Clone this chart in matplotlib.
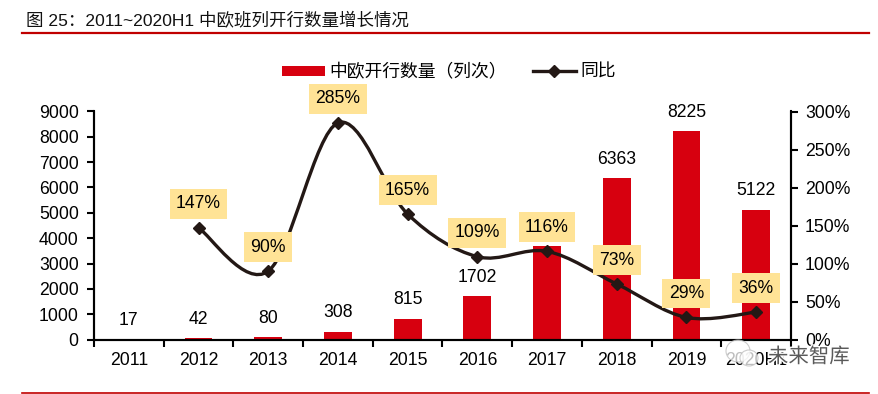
import matplotlib
matplotlib.use("Agg")
import matplotlib.pyplot as plt
import matplotlib.patheffects as pe
from matplotlib.path import Path
from matplotlib.patches import PathPatch, Rectangle, Ellipse
from matplotlib.lines import Line2D
from matplotlib.transforms import IdentityTransform

plt.rcParams['font.family'] = ['Liberation Sans', 'Noto Sans CJK SC', 'DejaVu Sans']

years = ['2011', '2012', '2013', '2014', '2015', '2016', '2017', '2018', '2019', '2020H1']
trains = [17, 42, 80, 308, 815, 1702, 3673, 6363, 8225, 5122]
growth = [None, 147, 90, 285, 165, 109, 116, 73, 29, 36]
growth_labels = ['147%', '90%', '285%', '165%', '109%', '116%', '73%', '29%', '36%']
left_ticks = [0, 1000, 2000, 3000, 4000, 5000, 6000, 7000, 8000, 9000]
right_ticks = [0, 50, 100, 150, 200, 250, 300]

RED = '#d7000f'
DARK = '#231815'
W, H = 879, 394
FS = 12.7


def smooth_path(xs, ys):
    # excel style smoothed line, bezier through every point
    verts = [(xs[0], ys[0])]
    codes = [Path.MOVETO]
    n = len(xs)
    for i in range(n - 1):
        x0, y0 = (xs[i - 1], ys[i - 1]) if i > 0 else (xs[i], ys[i])
        x1, y1 = xs[i], ys[i]
        x2, y2 = xs[i + 1], ys[i + 1]
        x3, y3 = (xs[i + 2], ys[i + 2]) if i + 2 < n else (x2, y2)
        verts += [(x1 + (x2 - x0) / 6, y1 + (y2 - y0) / 6),
                  (x2 - (x3 - x1) / 6, y2 - (y3 - y1) / 6),
                  (x2, y2)]
        codes += [Path.CURVE4] * 3
    return Path(verts, codes)


fig = plt.figure(figsize=(W / 100, H / 100), dpi=100)
ax = fig.add_axes([94 / W, 1 - 339.5 / H, 697 / W, 228 / H])
ax2 = ax.twinx()

x = list(range(len(years)))
ax.bar(x, trains, width=0.4, color=RED, zorder=2)
ax.set_xlim(-0.5, 9.5)
ax.set_ylim(0, 9000)
ax.set_yticks(left_ticks)
ax.set_xticks([i + 0.5 for i in x[:-1]] + [-0.5, 9.5])
ax.set_xticklabels([])
ax.tick_params(axis='x', direction='out', length=5, width=1.5, color='black')
ax.tick_params(axis='y', direction='out', length=5, width=1.5, labelsize=FS, pad=6)
for i, y in enumerate(years):
    ax.annotate(y, (i, 0), xytext=(0, -21), textcoords='offset pixels',
                ha='center', va='center', fontsize=FS, color='black')
for i, v in enumerate(trains):
    # the 2017 value sits behind the yellow box in the original, so it does not show
    if years[i] == '2017':
        continue
    ax.annotate(str(v), (i, v), xytext=(0, 19), textcoords='offset pixels',
                ha='center', va='center', fontsize=FS, color='black', zorder=6)

ax2.set_ylim(0, 300)
ax2.set_yticks(right_ticks)
ax2.set_yticklabels([f'{t}%' for t in right_ticks])
ax2.tick_params(axis='y', direction='out', length=5, width=1.5, labelsize=FS, pad=5)

for a in (ax, ax2):
    a.spines['top'].set_visible(False)
    for s in ('left', 'right', 'bottom'):
        a.spines[s].set_linewidth(1.5)

gx = x[1:]
gy = growth[1:]
ax2.add_patch(PathPatch(smooth_path(gx, gy), fc='none', ec=DARK, lw=2.4, zorder=3))
ax2.plot(gx, gy, ls='none', marker='D', ms=6.5, color=DARK, zorder=4)

# yellow value boxes
for xi, yi, lab in zip(gx, gy, growth_labels):
    ax2.annotate(lab, (xi, yi), xytext=(0, 24), textcoords='offset pixels',
                 ha='center', va='center', fontsize=FS, color='black', zorder=5,
                 bbox=dict(boxstyle='square,pad=0.36', fc='#ffe396', ec='none'))

handles = [Rectangle((0, 0), 1, 1, fc=RED, ec='none'),
           Line2D([], [], color=DARK, lw=2.4, marker='D', ms=6.5)]
fig.legend(handles, ['中欧开行数量（列次）', '同比'], ncol=2, frameon=False,
           loc='center', bbox_to_anchor=(449 / W, 1 - 72.5 / H), fontsize=12.8,
           handlelength=2.4, handleheight=0.5, handletextpad=0.25, columnspacing=1.45,
           borderpad=0, borderaxespad=0)

# title and rules
fig.text(26 / W, 1 - 21 / H, '图 25：2011~2020H1 中欧班列开行数量增长情况',
         ha='left', va='center', fontsize=12.6, color='#111111')
fig.add_artist(Line2D([22 / W, 869 / W], [1 - 33 / H, 1 - 33 / H], color='#c00000', lw=1.6))
fig.add_artist(Line2D([22 / W, 869 / W], [1 - 393 / H, 1 - 393 / H], color='#c00000', lw=1.2))

# watermark, speech bubbles then the name
for cx, cy, w, h in [(738, 351, 24, 22), (749, 358, 18, 16)]:
    fig.add_artist(Ellipse((cx, H - cy), w, h, transform=IdentityTransform(),
                           fc='white', ec='#bbbbbb', lw=0.8, alpha=0.75, zorder=9))
fig.text(768 / W, 1 - 357 / H, '未来智库', ha='left', va='center', fontsize=14.7,
         color='#5a5a5a', zorder=10,
         path_effects=[pe.withStroke(linewidth=2, foreground='white')])

fig.savefig('out.png', dpi=100)
